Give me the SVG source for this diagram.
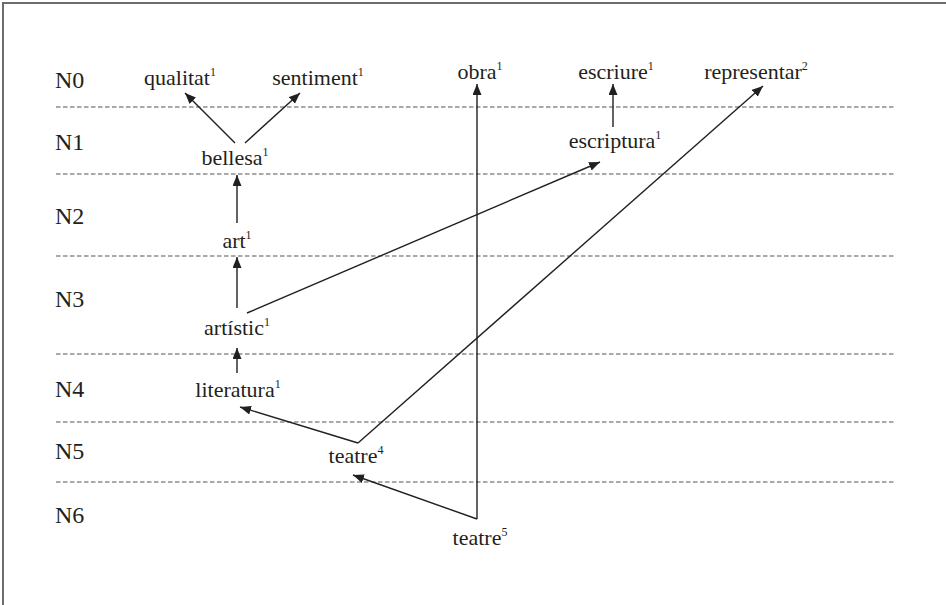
<svg xmlns="http://www.w3.org/2000/svg" width="946" height="605" viewBox="0 0 946 605">
<style>
text{font-family:"Liberation Serif","Times New Roman",serif;fill:#231f20}
.lvl{font-size:24px}
.nd{font-size:22px;text-anchor:middle}
.sup{font-size:12px}
.dash{stroke:#555;stroke-width:1.2;stroke-dasharray:4.5 2.5;fill:none}
.arr{stroke:#231f20;stroke-width:1.4;fill:none;marker-end:url(#ah)}
</style>
<defs>
<marker id="ah" markerUnits="userSpaceOnUse" markerWidth="12" markerHeight="10" refX="11" refY="4.5" orient="auto">
<path d="M0,0 L11,4.5 L0,9 z" fill="#231f20"/>
</marker>
</defs>
<rect width="946" height="605" fill="#fff"/>
<path d="M3,606 V3 H947" fill="none" stroke="#6d6d6d" stroke-width="2"/>
<g id="levels">
<line class="dash" x1="56" y1="107" x2="896" y2="107"/>
<line class="dash" x1="56" y1="174" x2="896" y2="174"/>
<line class="dash" x1="56" y1="256" x2="896" y2="256"/>
<line class="dash" x1="56" y1="354" x2="896" y2="354"/>
<line class="dash" x1="56" y1="422" x2="896" y2="422"/>
<line class="dash" x1="56" y1="482" x2="896" y2="482"/>
<text class="lvl" x="55" y="88">N0</text>
<text class="lvl" x="55" y="150">N1</text>
<text class="lvl" x="55" y="224">N2</text>
<text class="lvl" x="55" y="307">N3</text>
<text class="lvl" x="55" y="397">N4</text>
<text class="lvl" x="55" y="459">N5</text>
<text class="lvl" x="55" y="523">N6</text>
</g>
<g id="connectors">
<line class="arr" x1="235" y1="143" x2="185" y2="93"/>
<line class="arr" x1="245" y1="143" x2="300" y2="93"/>
<line class="arr" x1="237" y1="223" x2="237" y2="175"/>
<line class="arr" x1="237" y1="308" x2="237" y2="257"/>
<line class="arr" x1="237" y1="373" x2="237" y2="348"/>
<line class="arr" x1="247" y1="313" x2="600" y2="162"/>
<line class="arr" x1="613" y1="127" x2="613" y2="84"/>
<line class="arr" x1="358" y1="443" x2="240" y2="407"/>
<line class="arr" x1="358" y1="443" x2="763" y2="86"/>
<line class="arr" x1="477" y1="519" x2="477" y2="84"/>
<line class="arr" x1="477" y1="519" x2="353" y2="475"/>
</g>
<g id="n-qualitat"><text class="nd" x="180" y="85">qualitat<tspan class="sup" dy="-9">1</tspan></text></g>
<g id="n-sentiment"><text class="nd" x="318" y="85">sentiment<tspan class="sup" dy="-9">1</tspan></text></g>
<g id="n-obra"><text class="nd" x="480" y="79">obra<tspan class="sup" dy="-9">1</tspan></text></g>
<g id="n-escriure"><text class="nd" x="616" y="79">escriure<tspan class="sup" dy="-9">1</tspan></text></g>
<g id="n-representar"><text class="nd" x="756" y="79">representar<tspan class="sup" dy="-9">2</tspan></text></g>
<g id="n-bellesa"><text class="nd" x="235" y="165">bellesa<tspan class="sup" dy="-9">1</tspan></text></g>
<g id="n-escriptura"><text class="nd" x="615" y="148">escriptura<tspan class="sup" dy="-9">1</tspan></text></g>
<g id="n-art"><text class="nd" x="237" y="248">art<tspan class="sup" dy="-9">1</tspan></text></g>
<g id="n-artistic"><text class="nd" x="237" y="335">artístic<tspan class="sup" dy="-9">1</tspan></text></g>
<g id="n-literatura"><text class="nd" x="238" y="397">literatura<tspan class="sup" dy="-9">1</tspan></text></g>
<g id="n-teatre4"><text class="nd" x="356" y="463">teatre<tspan class="sup" dy="-9">4</tspan></text></g>
<g id="n-teatre5"><text class="nd" x="480" y="545">teatre<tspan class="sup" dy="-9">5</tspan></text></g>
</svg>
